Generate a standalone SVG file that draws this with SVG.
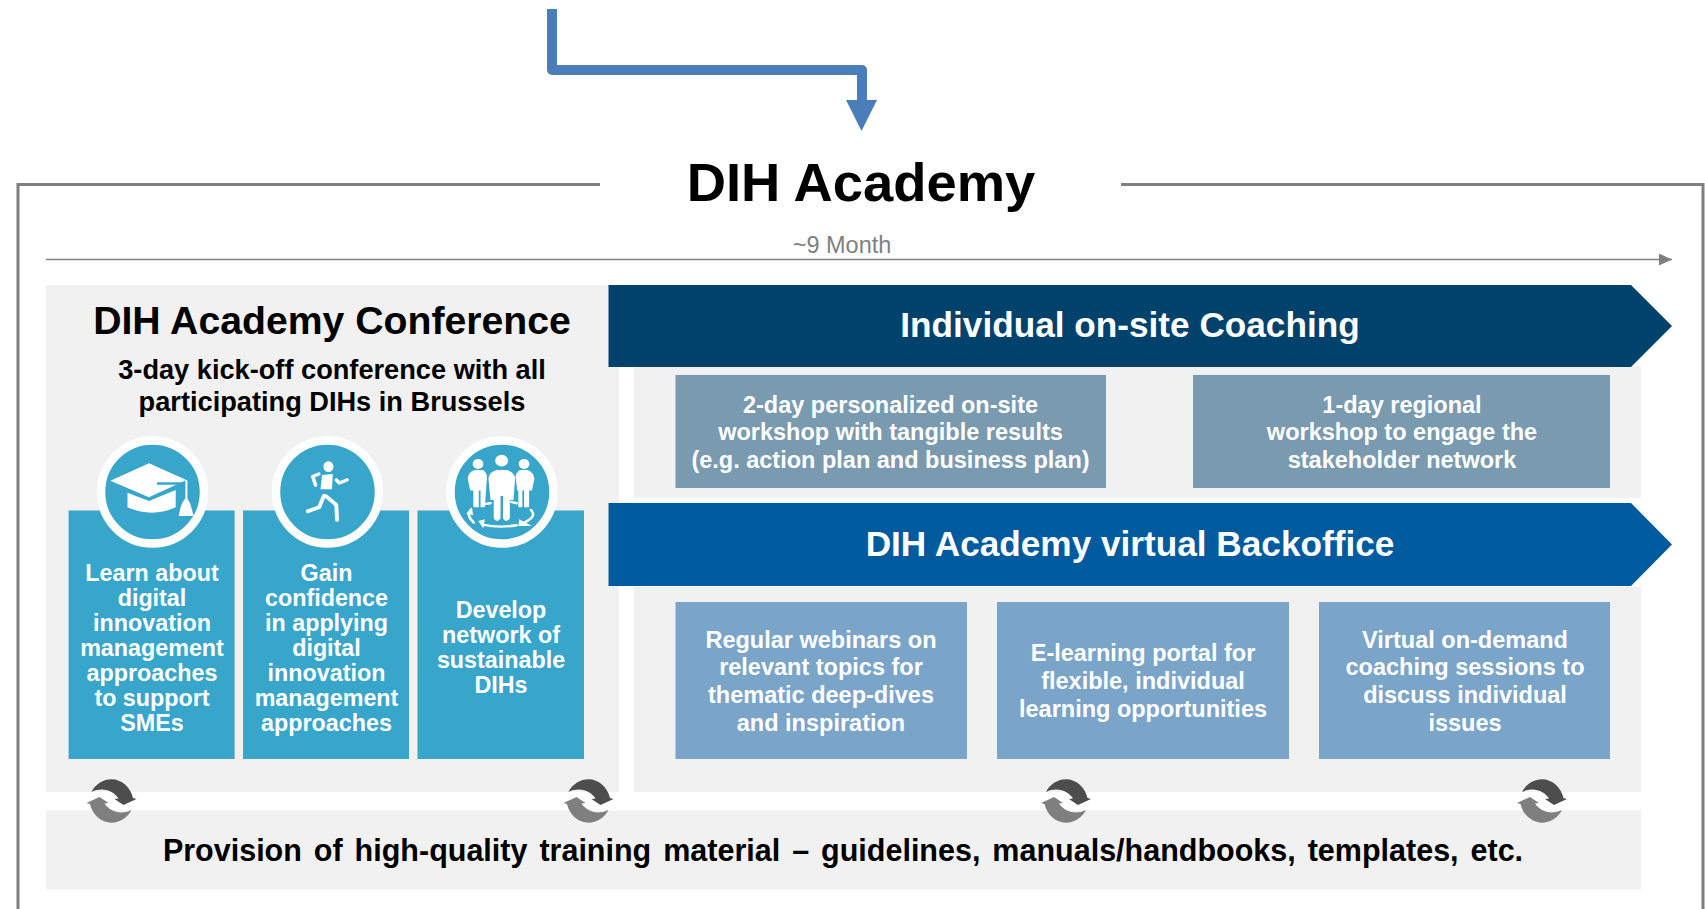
<svg xmlns="http://www.w3.org/2000/svg" xmlns:xlink="http://www.w3.org/1999/xlink" width="1705" height="909" viewBox="0 0 1705 909">
<style>
text{font-family:"Liberation Sans",Arial,sans-serif;font-weight:700;text-anchor:middle}
.w{fill:#fff;font-size:23.5px}
.c{fill:#fff;font-size:23.3px}
.k{fill:#000}
.panel{fill:#f1f1f1}
.card{fill:#38a6cb}
.disc{fill:#38a6cb;stroke:#fff;stroke-width:8.5}
.r1{fill:#7a9ab0}
.r2{fill:#7aa5c9}
.frame{fill:none;stroke:#7f7f7f;stroke-width:3}
.ic{fill:#fff;stroke:none}
.st{fill:none;stroke:#fff;stroke-linecap:round;stroke-linejoin:round}
</style>
<defs>
<marker id="ga" markerUnits="userSpaceOnUse" markerWidth="14" markerHeight="12" refX="13" refY="6" orient="auto"><path d="M0,0L13,6L0,12Z" fill="#7f7f7f"/></marker>
<g id="half"><path d="M-20,-9C-16,-17-8,-21.700 0,-21.700C10,-21.700 19,-14 21.500,-3L25,-2L12,4L3,-2L7,-2.500C3,-9-8,-15-20,-9Z"/></g>
<g id="refresh"><use xlink:href="#half" href="#half" fill="#4d4d4d"/><use xlink:href="#half" href="#half" fill="#7f7f7f" transform="rotate(180)"/></g>
</defs>
<g id="frame"><path class="frame" d="M600,184.500H18V909M1121,184.500H1703V909"/></g>
<g id="title"><text class="k" x="861" y="200.500" font-size="54.400">DIH Academy</text></g>
<g id="timeline"><text x="842" y="253" font-size="23.500" style="font-weight:400" fill="#7f7f7f">~9 Month</text></g>
<g id="conference">
<rect class="panel" x="46" y="285" width="573" height="507"/>
<text class="k" x="332" y="333.500" font-size="39.200">DIH Academy Conference</text>
<text class="k" x="332" y="379" font-size="27.200">3-day kick-off conference with all</text>
<text class="k" x="332" y="411" font-size="27.200">participating DIHs in Brussels</text>
</g>
<g id="card-learn">
<rect class="card" x="68.600" y="510.500" width="166" height="248.500"/>
<circle class="disc" cx="152.500" cy="492" r="51.500"/>
<path class="ic" d="M110.400,480.700L149,463.300L186.400,480L149,497.300Z"/>
<path d="M157,483.500H183" stroke="#38a6cb" stroke-width="2.500" fill="none"/>
<path class="ic" d="M127.500,492.700L149,501L175.700,490V507.300Q152,518 127.500,507.300Z"/>
<path class="st" stroke-width="2" d="M186.400,481V500"/>
<path class="ic" d="M186.400,498Q189,500 191,506L193.600,516H178.600L181,506Q183,500 186.400,498Z"/>
<text class="c" x="152" y="581">Learn about</text><text class="c" x="152" y="606">digital</text><text class="c" x="152" y="631">innovation</text><text class="c" x="152" y="656">management</text><text class="c" x="152" y="681">approaches</text><text class="c" x="152" y="706">to support</text><text class="c" x="152" y="731">SMEs</text>
</g>
<g id="card-gain">
<rect class="card" x="243" y="510.500" width="166" height="248.500"/>
<circle class="disc" cx="327.500" cy="492" r="51.500"/>
<g transform="translate(40 420) scale(.357 .333)">
<ellipse class="ic" cx="808" cy="140" rx="14" ry="16"/>
<path class="ic" d="M790,165L820,162L818,208H786Z"/>
<path class="st" stroke-width="10" d="M781,162L764,170L772,196M830,180L838,189L860,180"/>
<path class="st" stroke-width="11" d="M795,228L782,262L750,274M800,228L830,255L832,300"/>
</g>
<text class="c" x="326.500" y="581">Gain</text><text class="c" x="326.500" y="606">confidence</text><text class="c" x="326.500" y="631">in applying</text><text class="c" x="326.500" y="656">digital</text><text class="c" x="326.500" y="681">innovation</text><text class="c" x="326.500" y="706">management</text><text class="c" x="326.500" y="731">approaches</text>
</g>
<g id="card-network">
<rect class="card" x="417.500" y="510.500" width="166.500" height="248.500"/>
<circle class="disc" cx="502" cy="492" r="51.500"/>
<g transform="translate(40 420) scale(.357 .333)">
<circle class="ic" cx="1293" cy="122" r="18"/><circle class="ic" cx="1227" cy="132" r="15"/><circle class="ic" cx="1356" cy="132" r="15"/>
<path class="ic" d="M1262,240L1256,175Q1258,156 1280,150H1306Q1328,156 1331,175L1326,240H1316V296Q1304,310 1297,296V228H1290V296Q1280,310 1271,296V240Z"/>
<path class="ic" d="M1205,212L1198,175Q1200,156 1218,150H1240Q1250,155 1252,170L1246,262H1234V212H1229V262H1214V212Z"/>
<path class="ic" d="M1337,212L1332,170Q1335,155 1345,150H1365Q1382,156 1385,175L1378,212H1370V262H1356V212H1351V262H1340V212Z"/>
<path class="st" stroke-width="7" d="M1208,270Q1192,285 1215,308M1375,270Q1395,290 1352,310M1240,314Q1285,325 1335,316M1247,252L1262,250M1320,246L1335,250"/>
<path class="ic" d="M1208,262L1214,285L1194,282ZM1228,303L1246,298L1242,326ZM1342,298L1340,318L1378,318Z"/>
</g>
<text class="c" x="501" y="618">Develop</text><text class="c" x="501" y="643">network of</text><text class="c" x="501" y="668">sustainable</text><text class="c" x="501" y="693">DIHs</text>
</g>
<g id="coaching">
<rect class="panel" x="634" y="366" width="1007" height="132"/>
<path d="M608.500,285H1631L1672,326L1631,367H608.500Z" fill="#00426b"/>
<text x="1130" y="337" font-size="35.200" fill="#fff">Individual on-site Coaching</text>
<rect class="r1" x="675.500" y="375" width="430.500" height="113"/>
<text class="w" x="890.500" y="412.500">2-day personalized on-site</text><text class="w" x="890.500" y="440">workshop with tangible results</text><text class="w" x="890.500" y="468">(e.g. action plan and business plan)</text>
<rect class="r1" x="1193" y="375" width="417" height="113"/>
<text class="w" x="1402" y="412.500">1-day regional</text><text class="w" x="1402" y="440">workshop to engage the</text><text class="w" x="1402" y="468">stakeholder network</text>
</g>
<g id="backoffice">
<rect class="panel" x="634" y="587" width="1007" height="205"/>
<path d="M608.500,503H1631L1672,544.500L1631,586H608.500Z" fill="#005a9e"/>
<text x="1130" y="556" font-size="35.200" fill="#fff">DIH Academy virtual Backoffice</text>
<rect class="r2" x="675.500" y="602" width="291.500" height="157"/>
<text class="w" x="821" y="647.500">Regular webinars on</text><text class="w" x="821" y="675">relevant topics for</text><text class="w" x="821" y="703">thematic deep-dives</text><text class="w" x="821" y="731">and inspiration</text>
<rect class="r2" x="997" y="602" width="292" height="157"/>
<text class="w" x="1143" y="661">E-learning portal for</text><text class="w" x="1143" y="689">flexible, individual</text><text class="w" x="1143" y="717">learning opportunities</text>
<rect class="r2" x="1319" y="602" width="291" height="157"/>
<text class="w" x="1465" y="647.500">Virtual on-demand</text><text class="w" x="1465" y="675">coaching sessions to</text><text class="w" x="1465" y="703">discuss individual</text><text class="w" x="1465" y="731">issues</text>
</g>
<g id="material">
<rect class="panel" x="46" y="810.500" width="1595" height="79"/>
<text class="k" x="843" y="861" font-size="30.500" word-spacing="3.500">Provision of high-quality training material – guidelines, manuals/handbooks, templates, etc.</text>
</g>
<g id="refresh-icons">
<use xlink:href="#refresh" href="#refresh" transform="translate(111.500 801)"/>
<use xlink:href="#refresh" href="#refresh" transform="translate(588.500 801)"/>
<use xlink:href="#refresh" href="#refresh" transform="translate(1066 801)"/>
<use xlink:href="#refresh" href="#refresh" transform="translate(1542 801)"/>
</g>
<g id="connectors">
<path d="M46,259.500H1672" stroke="#7f7f7f" stroke-width="1.500" fill="none" marker-end="url(#ga)"/>
<path d="M552,9V70H862V102" fill="none" stroke="#4a7ebb" stroke-width="10" stroke-linejoin="round"/>
<path d="M846,100H877L861.500,131Z" fill="#4a7ebb"/>
</g>
</svg>
